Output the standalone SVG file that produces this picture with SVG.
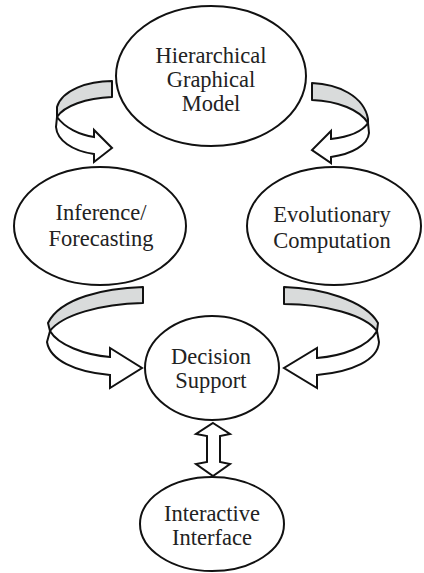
<svg xmlns="http://www.w3.org/2000/svg" width="424" height="573" viewBox="0 0 424 573">
  <style>
    .node ellipse { fill: #ffffff; stroke: #111111; stroke-width: 2; }
    .node text { font-family: "Liberation Serif", "Times New Roman", serif; font-size: 22.5px; fill: #222222; text-anchor: middle; }
    .band { fill: #d9dbdb; stroke: #111111; stroke-width: 2; stroke-linejoin: round; }
    .shaft { fill: #ffffff; stroke: #111111; stroke-width: 2; stroke-linejoin: miter; }
  </style>
  <rect width="424" height="573" fill="#ffffff"/>

  <g id="connectors">
    <!-- model to inference (curved ribbon, left) -->
    <g id="arrow-model-inference">
      <path class="band" d="M 112,81 C 88,81 62,90 57,107 L 57,117 C 64,106 86,98 112,97 Z"/>
      <path class="shaft" d="M 57,117 C 65,128 80,135 94,137 L 94,130 L 112,148 L 94,162 L 94,154 C 72,151 57,140 56,127 Z"/>
    </g>
    <!-- model to evolutionary computation (curved ribbon, right) -->
    <g id="arrow-model-evolution">
      <path class="band" d="M 312,83 C 338,84 364,96 368,119 L 368,123 C 360,110 338,101 312,100 Z"/>
      <path class="shaft" d="M 368,123 C 362,132 348,137 331,139 L 331,131 L 312,150 L 331,163 L 331,157 C 352,154 368,145 369,133 Z"/>
    </g>
    <!-- inference to decision support -->
    <g id="arrow-inference-decision">
      <path class="band" d="M 143,287 C 105,288 60,298 48,323 L 50,331 C 62,315 100,304 143,303 Z"/>
      <path class="shaft" d="M 50,331 C 58,345 85,355 110,357 L 110,348 L 142,368 L 110,388 L 110,375 C 75,372 50,360 47,342 Z"/>
    </g>
    <!-- evolutionary computation to decision support -->
    <g id="arrow-evolution-decision">
      <path class="band" d="M 284,287 C 320,288 365,300 378,323 L 377,331 C 365,315 325,304 284,304 Z"/>
      <path class="shaft" d="M 377,331 C 368,347 342,356 317,358 L 317,348 L 284,368 L 317,388 L 317,375 C 352,372 378,360 379,342 Z"/>
    </g>
    <!-- decision support <-> interactive interface -->
    <path id="arrow-decision-interface" class="shaft" d="M 213,423 L 230,434 L 220,436 L 220,462 L 230,464 L 213,476 L 196,464 L 207,462 L 207,436 L 196,434 Z"/>
  </g>

  <g id="node-model" class="node">
    <ellipse cx="211" cy="76" rx="95" ry="70"/>
    <text x="211" y="63">Hierarchical</text>
    <text x="211" y="87">Graphical</text>
    <text x="211" y="111">Model</text>
  </g>

  <g id="node-inference" class="node">
    <ellipse cx="100" cy="226" rx="86" ry="59"/>
    <text x="101" y="220">Inference/</text>
    <text x="101" y="246">Forecasting</text>
  </g>

  <g id="node-evolution" class="node">
    <ellipse cx="334" cy="226" rx="87" ry="59"/>
    <text x="332" y="222">Evolutionary</text>
    <text x="332" y="248">Computation</text>
  </g>

  <g id="node-decision" class="node">
    <ellipse cx="212" cy="368" rx="67" ry="52"/>
    <text x="211" y="364">Decision</text>
    <text x="211" y="388">Support</text>
  </g>

  <g id="node-interface" class="node">
    <ellipse cx="212" cy="524" rx="72" ry="47"/>
    <text x="212" y="521">Interactive</text>
    <text x="212" y="545">Interface</text>
  </g>
</svg>
